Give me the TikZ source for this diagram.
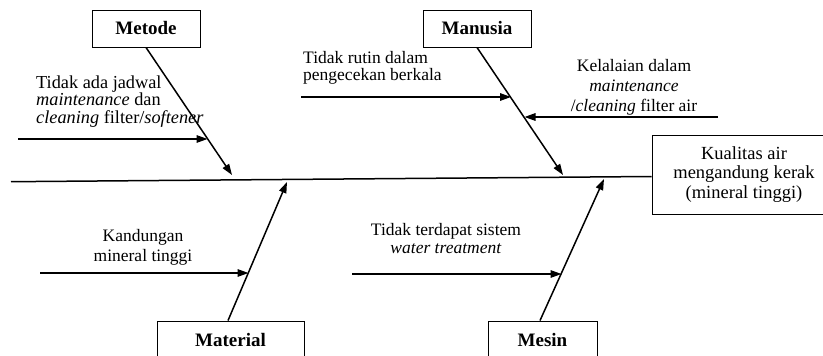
\documentclass[tikz,border=0pt]{standalone}
\usepackage{fontspec}
\setmainfont{Liberation Serif}
\usetikzlibrary{arrows.meta, positioning, calc}

\begin{document}
\begin{tikzpicture}[
    x=1pt, y=-1pt,
    >={Triangle[length=11pt, width=7.5pt]},
    cat/.style={draw, line width=0.9pt, minimum width=108pt,
                minimum height=37pt, inner sep=0pt,
                font=\fontsize{19}{19}\selectfont\bfseries},
    effect/.style={draw, line width=0.9pt, minimum width=184pt,
                   minimum height=79pt, align=center,
                   font=\fontsize{18.5}{19.6}\selectfont},
    cause/.style={inner sep=0pt, font=\fontsize{17.5}{17}\selectfont},
    bone/.style={->, line width=1.5pt}
  ]
  \useasboundingbox (0,0) rectangle (823,356);

  % head and categories
  \node[effect] (kualitas) at (744,174.5)
    {Kualitas air\\ mengandung kerak\\ (mineral tinggi)};
  \node[cat] (metode) at (146,28.5) {Metode};
  \node[cat] (manusia) at (477,28.5) {Manusia};
  \node[cat, minimum width=147pt] (material) at (230.5,339.5) {Material};
  \node[cat, minimum width=109pt] (mesin) at (542.5,339.5) {Mesin};

  % spine
  \coordinate (ekor) at (11,181.7);
  \draw[line width=1.5pt] (ekor) -- ([yshift=-2pt]kualitas.west);

  % main bones
  \coordinate (metode-hit) at (232,175);
  \coordinate (manusia-hit) at (563,175);
  \coordinate (material-hit) at (287,182);
  \coordinate (mesin-hit) at (604,179);
  \draw[bone] (metode.south) -- (metode-hit);
  \draw[bone] (manusia.south) -- (manusia-hit);
  \draw[bone] ([xshift=-2.5pt]material.north) -- (material-hit);
  \draw[bone] ([xshift=-2.5pt]mesin.north) -- (mesin-hit);

  % causes (base = last line)
  \node[cause, anchor=base west, align=left,
        font=\fontsize{18.3}{17.5}\selectfont] (jadwal) at (36,123.3)
    {Tidak ada jadwal\\ \textit{maintenance} dan\\
     \textit{cleaning} filter/\textit{softener}};
  \node[cause, anchor=base west, align=left] (rutin) at (303,80)
    {Tidak rutin dalam\\ pengecekan berkala};
  \node[cause, anchor=base, align=center,
        font=\fontsize{17.5}{20}\selectfont] (lalai) at (634,111.7)
    {Kelalaian dalam\\ \textit{maintenance}\\ /\textit{cleaning} filter air};
  \node[cause, anchor=base, align=center,
        font=\fontsize{17.5}{20}\selectfont] (kandungan) at (143,261.7)
    {Kandungan\\ mineral tinggi};
  \node[cause, anchor=base, align=center,
        font=\fontsize{17.5}{18.3}\selectfont] (sistem) at (446,253.3)
    {Tidak terdapat sistem\\ \textit{water treatment}};

  \coordinate (jadwal-s) at (18,139);
  \coordinate (jadwal-t) at (207.5,139);
  \coordinate (rutin-s) at (301,97);
  \coordinate (rutin-t) at (511,97);
  \coordinate (lalai-s) at (718,117);
  \coordinate (lalai-t) at (524.5,117);
  \coordinate (kandungan-s) at (40,273);
  \coordinate (kandungan-t) at (248.5,273);
  \coordinate (sistem-s) at (352,274);
  \coordinate (sistem-t) at (561.5,274);

  \draw[bone] (jadwal-s) -- (jadwal-t);
  \draw[bone] (rutin-s) -- (rutin-t);
  \draw[bone] (lalai-s) -- (lalai-t);
  \draw[bone] (kandungan-s) -- (kandungan-t);
  \draw[bone] (sistem-s) -- (sistem-t);
\end{tikzpicture}
\end{document}
